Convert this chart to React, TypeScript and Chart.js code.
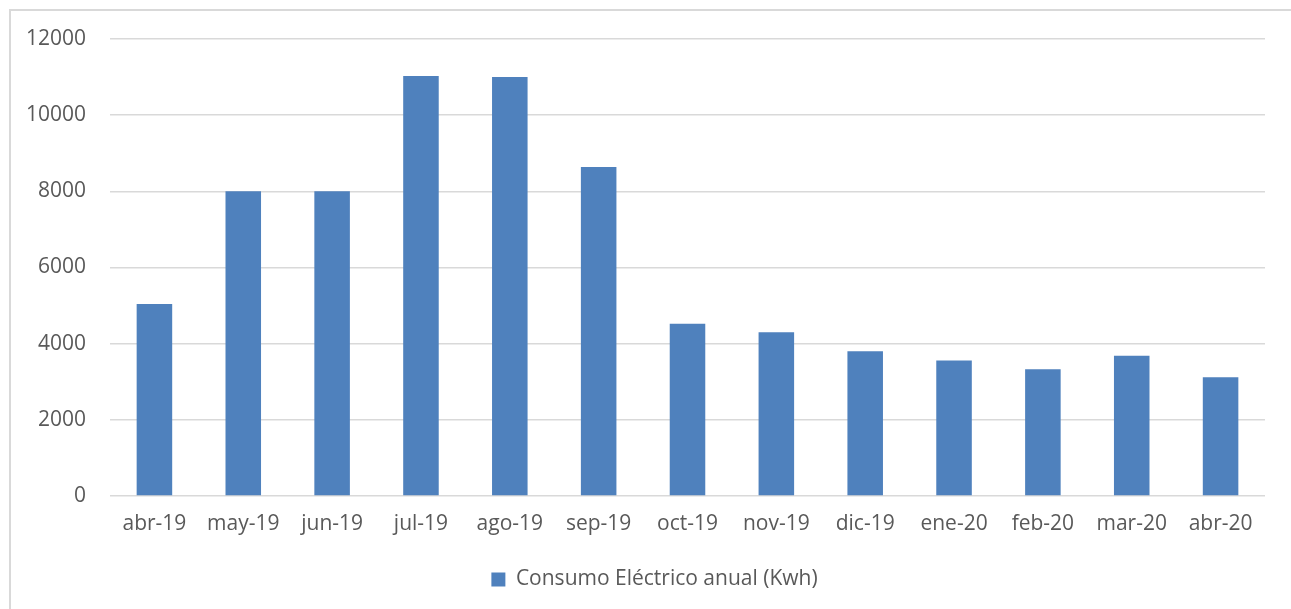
import React, { useEffect, useRef } from "react";
import { Chart, registerables } from "chart.js";

Chart.register(...registerables);

const categories = ["abr-19", "may-19", "jun-19", "jul-19", "ago-19", "sep-19", "oct-19", "nov-19", "dic-19", "ene-20", "feb-20", "mar-20", "abr-20"];
const consumo = [5040, 8000, 8000, 11030, 11000, 8640, 4520, 4300, 3800, 3560, 3330, 3680, 3120];
const seriesLabel = "Consumo Eléctrico anual (Kwh)";

const FONT = "'Open Sans', sans-serif";
const TEXT = "#595959";

const legendShift = {
  id: "legendShift",
  afterLayout(chart: any) {
    if (chart.legend) {
      chart.legend.left += 22;
      chart.legend.right += 22;
    }
  },
};

export default function App() {
  const ref = useRef<HTMLCanvasElement>(null);
  useEffect(() => {
    if (!ref.current) return;
    const chart = new Chart(ref.current, {
      type: "bar",
      data: {
        labels: categories,
        datasets: [
          {
            label: seriesLabel,
            data: consumo,
            backgroundColor: "#4f81bd",
            barPercentage: 0.4,
            categoryPercentage: 1,
          },
        ],
      },
      plugins: [legendShift],
      options: {
        animation: false,
        responsive: false,
        maintainAspectRatio: false,
        layout: { padding: { top: 39, right: 26, bottom: 9, left: 0 } },
        plugins: {
          tooltip: { enabled: false },
          legend: {
            position: "bottom",
            labels: {
              color: TEXT,
              font: { family: FONT, size: 21 },
              boxWidth: 14,
              boxHeight: 14,
              padding: 10,
            },
          },
        },
        scales: {
          x: {
            grid: { display: false, drawTicks: false },
            border: { display: false },
            ticks: { color: TEXT, font: { family: FONT, size: 21 }, padding: 15, maxRotation: 0 },
            afterFit: (s: any) => {
              s.height = 63;
            },
          },
          y: {
            min: 0,
            max: 12000,
            grid: { color: "#d9d9d9", lineWidth: 1.5, drawTicks: false },
            border: { display: false },
            ticks: {
              stepSize: 2000,
              color: TEXT,
              font: { family: FONT, size: 21 },
              padding: 24,
              callback: (v: any) => String(v),
            },
            afterFit: (s: any) => {
              s.width = 110;
            },
          },
        },
      },
    });
    return () => chart.destroy();
  }, []);
  return (
    <div style={{ position: "fixed", left: 0, top: 0, width: 1291, height: 609, overflow: "hidden", background: "#fff" }}>
      <div style={{ position: "absolute", left: 9, top: 9, width: 1400, height: 800, border: "2px solid #d9d9d9", boxSizing: "border-box" }} />
      <canvas ref={ref} width={1291} height={609} style={{ position: "absolute", left: 0, top: 0 }} />
    </div>
  );
}
